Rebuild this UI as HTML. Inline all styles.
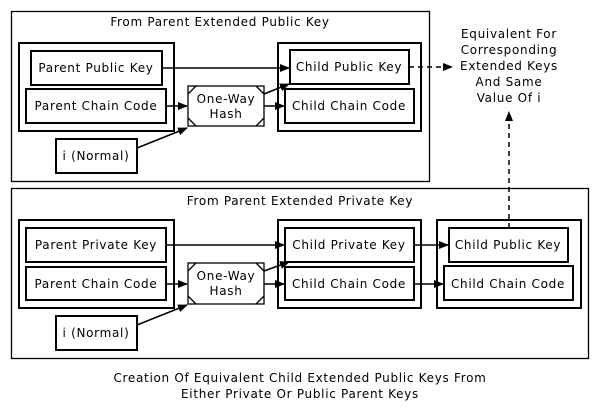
<!DOCTYPE html>
<html><head><style>body{margin:0;background:#fff}</style></head><body>
<svg width="600" height="410" xmlns="http://www.w3.org/2000/svg" font-family="DejaVu Sans, sans-serif" font-size="12" letter-spacing="0.7">
<defs><marker id="a" markerWidth="10" markerHeight="8" refX="9" refY="4" orient="auto" markerUnits="userSpaceOnUse"><path d="M0,0L10,4L0,8z" fill="#000"/></marker></defs>
<g fill="none" stroke="#000">
<rect x="11.5" y="11.5" width="418" height="170" stroke-width="1.3"/>
<rect x="11.5" y="188.5" width="577" height="170" stroke-width="1.3"/>
<g stroke-width="2">
<rect x="19" y="43" width="155" height="88"/><rect x="278" y="43" width="143" height="88"/>
<rect x="19" y="220" width="155" height="88"/><rect x="278" y="220" width="143" height="88"/><rect x="437" y="220" width="144" height="88"/>
<rect x="31" y="51" width="131" height="34"/><rect x="26" y="89" width="140" height="34"/>
<rect x="56" y="139" width="81" height="34"/>
<rect x="290" y="50" width="119" height="34"/><rect x="285" y="89" width="129" height="34"/>
<rect x="26" y="228" width="140" height="34"/><rect x="26" y="267" width="140" height="33"/>
<rect x="56" y="316" width="81" height="34"/>
<rect x="285" y="228" width="129" height="34"/><rect x="285" y="267" width="129" height="33"/>
<rect x="449" y="228" width="119" height="34"/><rect x="444" y="266" width="129" height="34"/>
</g>
<g stroke-width="1.3">
<rect x="188" y="86" width="76" height="40"/><path d="M188,94l8,-8M256,86l8,8M188,118l8,8M256,126l8,-8"/>
<rect x="188" y="263" width="76" height="41"/><path d="M188,271l8,-8M256,263l8,8M188,296l8,8M256,304l8,-8"/>
</g>
<g stroke-width="1.5" marker-end="url(#a)">
<path d="M162,68H289"/><path d="M166,106H187"/><path d="M137,148L187,128"/>
<path d="M264,94L289,84"/><path d="M264,106H284"/>
<path d="M166,245H284"/><path d="M166,284H187"/><path d="M137,325L187,305"/>
<path d="M264,271L289,262"/><path d="M264,284H284"/>
<path d="M414,245H448"/><path d="M414,284H443"/>
<path d="M409,67H452" stroke-dasharray="5,4"/><path d="M509,228V112" stroke-dasharray="5,4"/>
</g>
</g>
<g text-anchor="middle">
<text x="220" y="26">From Parent Extended Public Key</text>
<text x="300" y="205">From Parent Extended Private Key</text>
<text x="96" y="72">Parent Public Key</text>
<text x="96" y="110">Parent Chain Code</text>
<text x="96" y="160">i (Normal)</text>
<text x="226" y="103">One-Way</text><text x="226" y="118">Hash</text>
<text x="349" y="71">Child Public Key</text>
<text x="349" y="110">Child Chain Code</text>
<text x="96" y="249">Parent Private Key</text>
<text x="96" y="288">Parent Chain Code</text>
<text x="96" y="337">i (Normal)</text>
<text x="226" y="280">One-Way</text><text x="226" y="295">Hash</text>
<text x="349" y="249">Child Private Key</text>
<text x="349" y="288">Child Chain Code</text>
<text x="508" y="249">Child Public Key</text>
<text x="508" y="288">Child Chain Code</text>
<text x="509" y="38">Equivalent For</text>
<text x="509" y="54">Corresponding</text>
<text x="509" y="70">Extended Keys</text>
<text x="509" y="86">And Same</text>
<text x="509" y="102">Value Of i</text>
<text x="300" y="382">Creation Of Equivalent Child Extended Public Keys From</text>
<text x="300" y="398">Either Private Or Public Parent Keys</text>
</g>
</svg>
</body></html>
